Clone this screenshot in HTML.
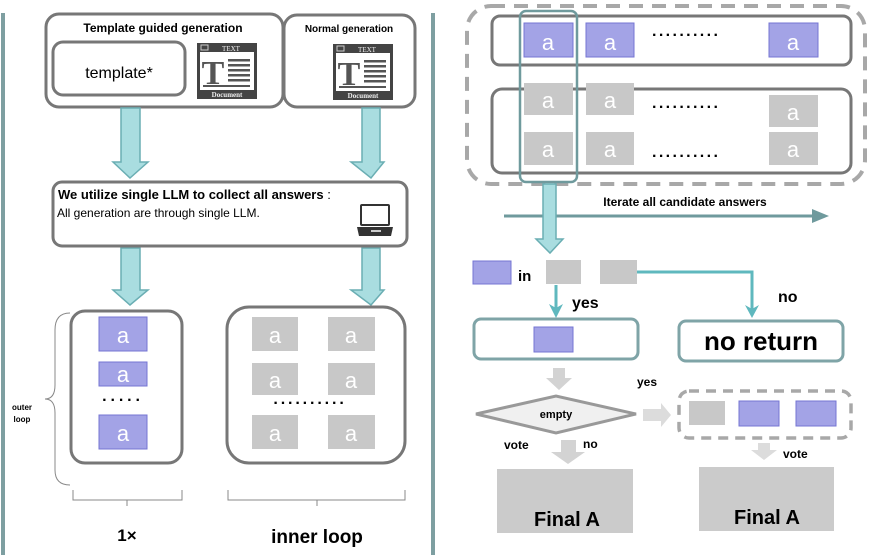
<!DOCTYPE html>
<html><head><meta charset="utf-8"><style>
html,body{margin:0;padding:0;background:#fff}
svg{display:block}
text{font-family:"Liberation Sans",Arial,sans-serif}
</style></head><body>
<svg width="872" height="555" viewBox="0 0 872 555" xmlns="http://www.w3.org/2000/svg">
<defs>
<g id="doc">
<rect x="0" y="0" width="60" height="56" fill="#444"/>
<rect x="3" y="9" width="54" height="38" fill="#fff"/>
<rect x="4" y="2" width="7" height="5" fill="none" stroke="#ccc" stroke-width="1"/>
<text x="34" y="8" font-size="7" fill="#eee" text-anchor="middle" style="font-family:'Liberation Serif',serif">TEXT</text>
<text x="16" y="41" font-size="34" fill="#555" text-anchor="middle" font-weight="bold" style="font-family:'Liberation Serif',serif">T</text>
<rect x="31" y="16" width="22" height="2.5" fill="#555"/>
<rect x="31" y="21" width="22" height="2.5" fill="#555"/>
<rect x="31" y="26" width="22" height="2.5" fill="#555"/>
<rect x="31" y="31" width="22" height="2.5" fill="#555"/>
<rect x="31" y="36" width="22" height="2.5" fill="#555"/>
<rect x="6" y="42" width="47" height="2" fill="#555"/>
<text x="30" y="54" font-size="7" fill="#eee" text-anchor="middle" font-weight="bold" style="font-family:'Liberation Serif',serif">Document</text>
</g>
</defs>
<!-- dividers -->
<rect x="1" y="13" width="4" height="542" fill="#7e9fa1"/>
<rect x="431" y="13" width="4" height="542" fill="#7e9fa1"/>

<!-- LEFT PANEL -->
<rect x="46" y="14" width="237" height="93" rx="13" fill="#fff" stroke="#777" stroke-width="3"/>
<text x="163" y="32" font-size="12" font-weight="bold" text-anchor="middle">Template guided generation</text>
<rect x="53" y="42" width="132" height="53" rx="10" fill="#fff" stroke="#777" stroke-width="3"/>
<text x="119" y="78" font-size="16" text-anchor="middle">template*</text>
<use href="#doc" x="197" y="43"/>
<rect x="284" y="15" width="131" height="92" rx="13" fill="#fff" stroke="#777" stroke-width="3"/>
<text x="349" y="32" font-size="10" font-weight="bold" text-anchor="middle">Normal generation</text>
<use href="#doc" x="333" y="44"/>

<g fill="#a9dde0" stroke="#6aaeb3" stroke-width="1.5">
<polygon points="121,108 140,108 140,162 148,162 130,178 113,162 121,162"/>
<polygon points="362,108 380,108 380,162 384,162 371,178 351,162 362,162"/>
<polygon points="121,248 140,248 140,290 148,290 130,305 113,290 121,290"/>
<polygon points="362,248 380,248 380,290 384,290 371,305 351,290 362,290"/>
</g>

<rect x="53" y="182" width="354" height="64" rx="9" fill="#fff" stroke="#777" stroke-width="3"/>
<text x="58" y="199" font-size="13" font-weight="bold">We utilize single LLM to collect all answers <tspan font-weight="normal">:</tspan></text>
<text x="57" y="217" font-size="12">All generation are through single LLM.</text>
<rect x="361" y="205" width="28" height="20" rx="1" fill="#fff" stroke="#333" stroke-width="2"/>
<polygon points="357,227 393,227 391,236 359,236" fill="#333"/>
<rect x="371" y="230" width="10" height="2" fill="#ccc"/>

<rect x="71" y="311" width="111" height="152" rx="14" fill="#fff" stroke="#777" stroke-width="3"/>
<rect x="227" y="307" width="178" height="156" rx="22" fill="#fff" stroke="#777" stroke-width="3"/>
<g fill="#a3a3e6" stroke="#7575d3" stroke-width="1">
<rect x="99" y="317" width="48" height="34"/>
<rect x="99" y="362" width="48" height="24"/>
<rect x="99" y="415" width="48" height="34"/>
</g>
<g fill="#fff" font-size="22" text-anchor="middle">
<text x="123" y="343">a</text><text x="123" y="382">a</text><text x="123" y="441">a</text>
</g>
<text x="123" y="405" font-size="16" font-weight="bold" text-anchor="middle" letter-spacing="3">·····</text>
<g fill="#c8c8c8">
<rect x="252" y="317" width="46" height="34"/><rect x="328" y="317" width="47" height="34"/>
<rect x="252" y="363" width="46" height="32"/><rect x="328" y="363" width="47" height="32"/>
<rect x="252" y="415" width="46" height="34"/><rect x="328" y="415" width="47" height="34"/>
</g>
<g fill="#fff" font-size="22" text-anchor="middle">
<text x="275" y="343">a</text><text x="351" y="343">a</text>
<text x="275" y="388">a</text><text x="351" y="388">a</text>
<text x="275" y="441">a</text><text x="351" y="441">a</text>
</g>
<text x="310" y="408" font-size="16" font-weight="bold" text-anchor="middle" letter-spacing="2">··········</text>

<path d="M70,313 Q55,313 55,330 L55,385 Q55,399 45,399 Q55,399 55,413 L55,470 Q55,485 70,485" fill="none" stroke="#888" stroke-width="1"/>
<text x="22" y="410" font-size="8" font-weight="bold" text-anchor="middle">outer</text>
<text x="22" y="422" font-size="8" font-weight="bold" text-anchor="middle">loop</text>
<path d="M73,490 L73,500 L182,500 L182,490 M127,500 L127,506" fill="none" stroke="#888" stroke-width="1"/>
<path d="M228,490 L228,500 L405,500 L405,490 M317,500 L317,506" fill="none" stroke="#888" stroke-width="1"/>
<text x="127" y="541" font-size="17" font-weight="bold" text-anchor="middle">1×</text>
<text x="317" y="543" font-size="19" font-weight="bold" text-anchor="middle">inner loop</text>

<!-- RIGHT PANEL -->
<rect x="467" y="6" width="398" height="178" rx="24" fill="none" stroke="#a8a8a8" stroke-width="4" stroke-dasharray="14,9"/>
<rect x="492" y="16" width="359" height="49" rx="8" fill="#fff" stroke="#777" stroke-width="3"/>
<rect x="492" y="89" width="359" height="84" rx="10" fill="none" stroke="#777" stroke-width="3"/>
<g fill="#a3a3e6" stroke="#7575d3" stroke-width="1">
<rect x="524" y="23" width="49" height="34"/><rect x="586" y="23" width="48" height="34"/><rect x="769" y="23" width="49" height="34"/>
</g>
<g fill="#c8c8c8">
<rect x="524" y="83" width="49" height="32"/><rect x="586" y="83" width="48" height="32"/><rect x="769" y="95" width="49" height="32"/>
<rect x="524" y="132" width="49" height="33"/><rect x="586" y="132" width="48" height="33"/><rect x="769" y="132" width="49" height="33"/>
</g>
<g fill="#fff" font-size="22" text-anchor="middle">
<text x="548" y="50">a</text><text x="610" y="50">a</text><text x="793" y="50">a</text>
<text x="548" y="108">a</text><text x="610" y="108">a</text><text x="793" y="120">a</text>
<text x="548" y="157">a</text><text x="610" y="157">a</text><text x="793" y="157">a</text>
</g>
<g font-size="16" font-weight="bold" letter-spacing="1.5">
<text x="652" y="40">··········</text><text x="652" y="112">··········</text><text x="652" y="161">··········</text>
</g>
<rect x="520" y="11" width="57" height="171" rx="6" fill="none" stroke="#6f9a9d" stroke-width="2.5"/>

<path d="M504,216 L815,216" stroke="#6f9a9d" stroke-width="3"/>
<polygon points="812,209 829,216 812,223" fill="#6f9a9d"/>
<text x="685" y="206" font-size="12" font-weight="bold" text-anchor="middle">Iterate all candidate answers</text>
<polygon points="543,184 556,184 556,239 563,239 550,253 536,239 543,239" fill="#a9dde0" stroke="#6aaeb3" stroke-width="1.5"/>

<rect x="473" y="261" width="38" height="23" fill="#a3a3e6" stroke="#7575d3" stroke-width="1"/>
<text x="518" y="281" font-size="15" font-weight="bold">in</text>
<rect x="546" y="260" width="35" height="24" fill="#c8c8c8"/>
<rect x="600" y="260" width="37" height="24" fill="#c8c8c8"/>
<path d="M637,272 L752,272 L752,312" fill="none" stroke="#5fb8be" stroke-width="3"/>
<polygon points="745,305 752,318 759,305 752,309" fill="#5fb8be"/>
<path d="M556,285 L556,310" stroke="#5fb8be" stroke-width="3"/>
<polygon points="549,304 556,318 563,304 556,308" fill="#5fb8be"/>
<text x="572" y="308" font-size="16" font-weight="bold">yes</text>
<text x="778" y="302" font-size="16" font-weight="bold">no</text>

<rect x="474" y="319" width="164" height="40" rx="7" fill="#fff" stroke="#7fa4a7" stroke-width="3"/>
<rect x="534" y="327" width="39" height="25" fill="#a3a3e6" stroke="#7575d3" stroke-width="1"/>
<rect x="679" y="321" width="164" height="40" rx="7" fill="#fff" stroke="#7fa4a7" stroke-width="3"/>
<text x="761" y="350" font-size="26" font-weight="bold" text-anchor="middle">no return</text>

<polygon points="553,368 565,368 565,378 572,378 559,390 546,378 553,378" fill="#d3d3d3"/>
<polygon points="476,414 556,396 636,414 556,433" fill="#f0f0f0" stroke="#999" stroke-width="3"/>
<text x="556" y="418" font-size="11" font-weight="bold" text-anchor="middle">empty</text>
<text x="637" y="386" font-size="12" font-weight="bold">yes</text>
<polygon points="643,409 661,409 661,403 671,415 661,427 661,421 643,421" fill="#dcdcdc"/>
<rect x="679" y="391" width="172" height="47" rx="10" fill="none" stroke="#a8a8a8" stroke-width="3.5" stroke-dasharray="10,7"/>
<rect x="689" y="401" width="36" height="24" fill="#c8c8c8"/>
<rect x="739" y="401" width="40" height="25" fill="#a3a3e6" stroke="#7575d3" stroke-width="1"/>
<rect x="796" y="401" width="40" height="25" fill="#a3a3e6" stroke="#7575d3" stroke-width="1"/>
<polygon points="758,443 770,443 770,450 777,450 764,460 751,450 758,450" fill="#dcdcdc"/>
<text x="783" y="458" font-size="12" font-weight="bold">vote</text>

<polygon points="561,440 576,440 576,452 585,452 568,464 551,452 561,452" fill="#d3d3d3"/>
<text x="504" y="449" font-size="12" font-weight="bold">vote</text>
<text x="583" y="448" font-size="12" font-weight="bold">no</text>

<rect x="497" y="469" width="136" height="64" fill="#cbcbcb"/>
<rect x="699" y="467" width="135" height="64" fill="#cbcbcb"/>
<text x="567" y="526" font-size="20" font-weight="bold" text-anchor="middle">Final A</text>
<text x="767" y="524" font-size="20" font-weight="bold" text-anchor="middle">Final A</text>
</svg>
</body></html>
